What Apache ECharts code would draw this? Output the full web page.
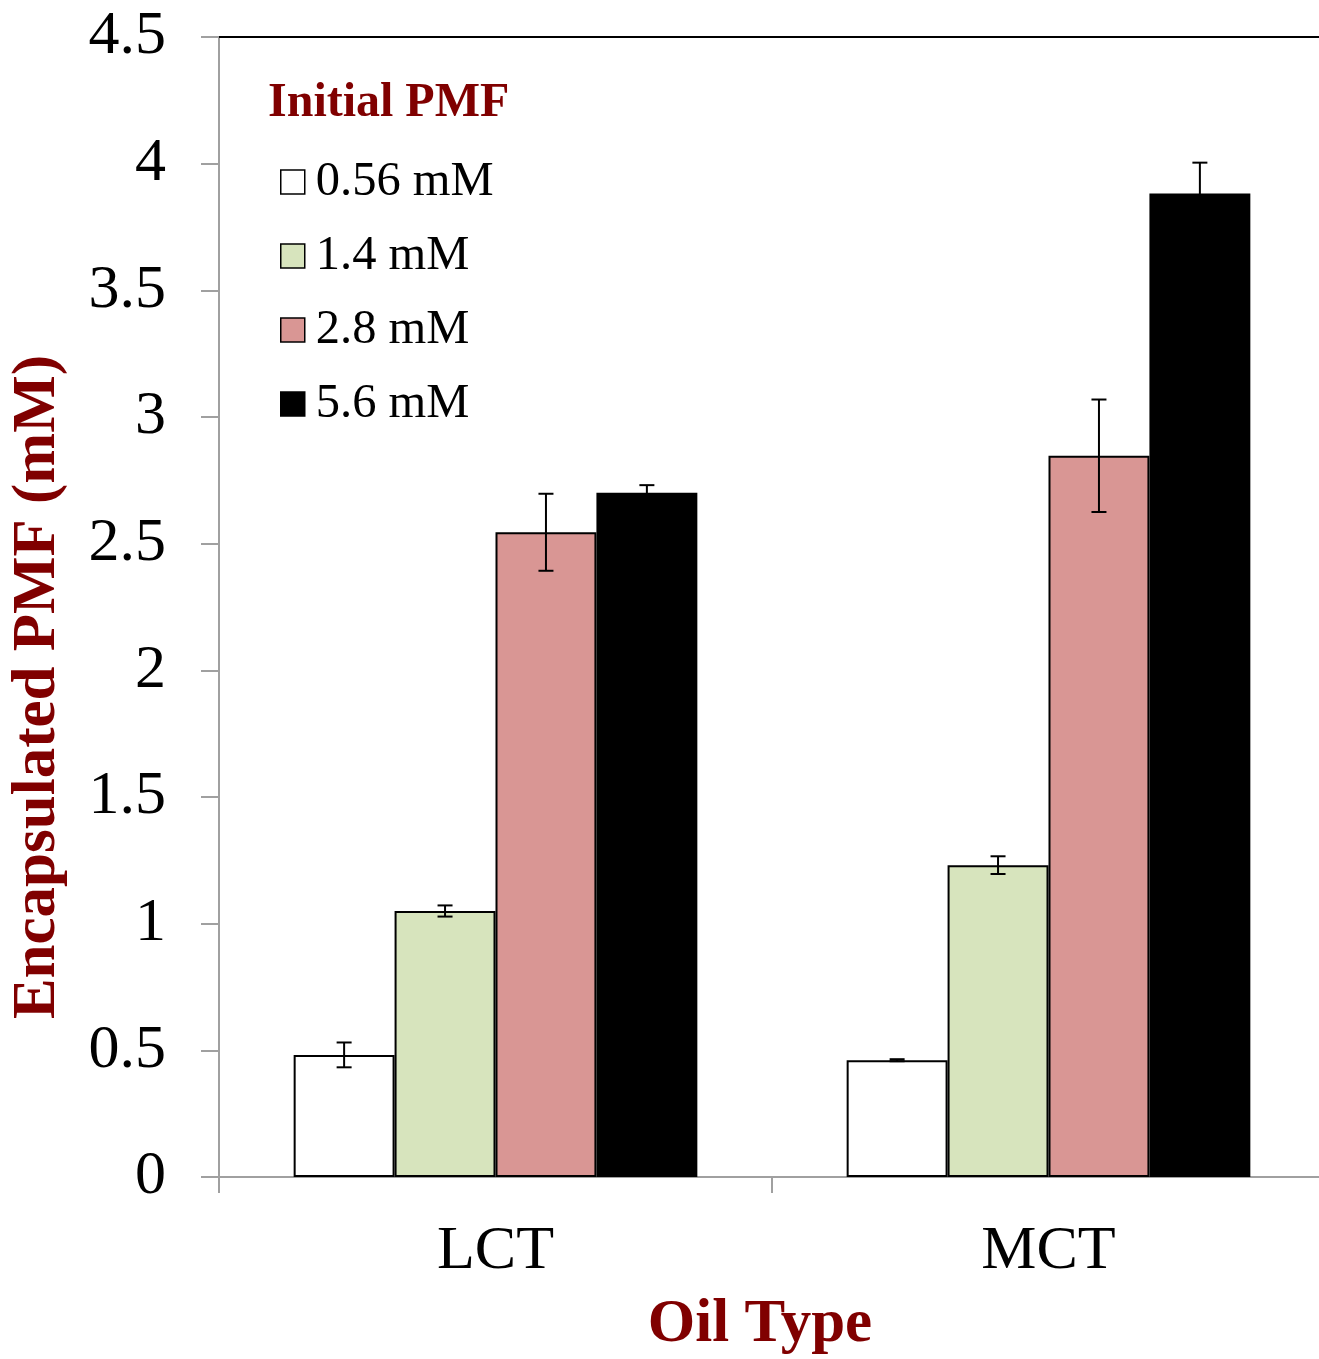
<!DOCTYPE html>
<html>
<head>
<meta charset="utf-8">
<script src="https://cdn.jsdelivr.net/npm/echarts@6/dist/echarts.min.js"></script>
<style>
html,body{margin:0;padding:0;background:#fff;}
#chart{width:1319px;height:1359px;}
</style>
</head>
<body>
<div id="chart"></div>
<script>
const categories = ['LCT', 'MCT'];
const seriesNames = ['0.56 mM', '1.4 mM', '2.8 mM', '5.6 mM'];
const values056 = [0.482, 0.461];
const values14 = [1.050, 1.231];
const values28 = [2.545, 2.847];
const values56 = [2.701, 3.882];
const errors056 = [0.049, 0.004];
const errors14 = [0.022, 0.035];
const errors28 = [0.152, 0.222];
const errors56 = [0.030, 0.122];
const yTicks = [0, 0.5, 1, 1.5, 2, 2.5, 3, 3.5, 4, 4.5];

const colors = ['#FFFFFF', '#D7E4BD', '#D99694', '#000000'];
const allValues = [values056, values14, values28, values56];
const allErrors = [errors056, errors14, errors28, errors56];
const CAT_GAP = 0.27;
const SERIF = "'Liberation Serif', 'Times New Roman', serif";
const DARKRED = '#800000';

const errData = [];
allValues.forEach((vals, si) => {
  vals.forEach((v, ci) => {
    errData.push([ci, si, v, allErrors[si][ci]]);
  });
});

const barSeries = seriesNames.map((name, i) => ({
  name: name,
  type: 'bar',
  data: allValues[i],
  barGap: '0%',
  barCategoryGap: (CAT_GAP * 100) + '%',
  itemStyle: { color: colors[i], borderColor: '#000', borderWidth: 2 },
  emphasis: { disabled: true },
  z: 2
}));

const errorSeries = {
  type: 'custom',
  name: 'err',
  data: errData,
  z: 5,
  silent: true,
  renderItem: function (params, api) {
    const ci = api.value(0), si = api.value(1), v = api.value(2), e = api.value(3);
    const band = api.size([1, 0])[0];
    const bw = band * (1 - CAT_GAP) / 4;
    const c = api.coord([ci, v]);
    const x = c[0] + (si - 1.5) * bw;
    const yt = api.coord([ci, v + e])[1];
    const yb = api.coord([ci, v - e])[1];
    const hw = 7.5;
    const st = { stroke: '#000', lineWidth: 2 };
    return {
      type: 'group',
      children: [
        { type: 'line', shape: { x1: x, y1: yt, x2: x, y2: yb }, style: st },
        { type: 'line', shape: { x1: x - hw, y1: yt, x2: x + hw, y2: yt }, style: st },
        { type: 'line', shape: { x1: x - hw, y1: yb, x2: x + hw, y2: yb }, style: st }
      ]
    };
  }
};

const chart = echarts.init(document.getElementById('chart'), null, { renderer: 'canvas' });
chart.setOption({
  backgroundColor: '#fff',
  animation: false,
  title: {
    text: 'Initial PMF',
    left: 268,
    top: 80,
    padding: 0,
    textStyle: { fontFamily: SERIF, fontWeight: 'bold', fontSize: 48, color: DARKRED }
  },
  legend: {
    data: seriesNames,
    orient: 'vertical',
    left: 280,
    top: 157,
    padding: 0,
    itemWidth: 24,
    itemHeight: 24,
    itemGap: 24,
    icon: 'rect',
    selectedMode: false,
    itemStyle: { borderColor: '#000', borderWidth: 1.5 },
    textStyle: { fontFamily: SERIF, fontSize: 48.5, color: '#000', lineHeight: 50, padding: [0, 0, 0, 6] }
  },
  grid: { left: 219, top: 37, right: -6, bottom: 182, containLabel: false, outerBoundsMode: 'none' },
  xAxis: [{
    type: 'category',
    data: categories,
    position: 'bottom',
    axisLine: { lineStyle: { color: '#A0A0A0', width: 2 } },
    axisTick: { show: true, length: 16, lineStyle: { color: '#A0A0A0', width: 2 } },
    axisLabel: { fontFamily: SERIF, fontSize: 62, color: '#000', margin: 44 },
    name: 'Oil Type',
    nameLocation: 'middle',
    nameGap: 118,
    nameTextStyle: { fontFamily: SERIF, fontWeight: 'bold', fontSize: 61, color: DARKRED, padding: [0, 24, 0, 0] }
  }, {
    type: 'category',
    data: categories,
    position: 'top',
    axisLine: { show: true, lineStyle: { color: '#000', width: 2 } },
    axisTick: { show: false },
    axisLabel: { show: false }
  }],
  yAxis: {
    type: 'value',
    min: 0,
    max: 4.5,
    interval: 0.5,
    axisLine: { show: true, lineStyle: { color: '#A0A0A0', width: 2 } },
    axisTick: { show: true, length: 18, lineStyle: { color: '#A0A0A0', width: 2 } },
    splitLine: { show: false },
    axisLabel: {
      fontFamily: SERIF, fontSize: 62, color: '#000', margin: 53,
      formatter: function (v) { return yTicks.indexOf(v) >= 0 ? String(v) : ''; }
    },
    name: 'Encapsulated PMF (mM)',
    nameLocation: 'middle',
    nameGap: 150,
    nameRotate: 90,
    nameTextStyle: { fontFamily: SERIF, fontWeight: 'bold', fontSize: 61, color: DARKRED, padding: [0, 160, 0, 0] }
  },
  series: barSeries.concat([errorSeries])
});
</script>
</body>
</html>
